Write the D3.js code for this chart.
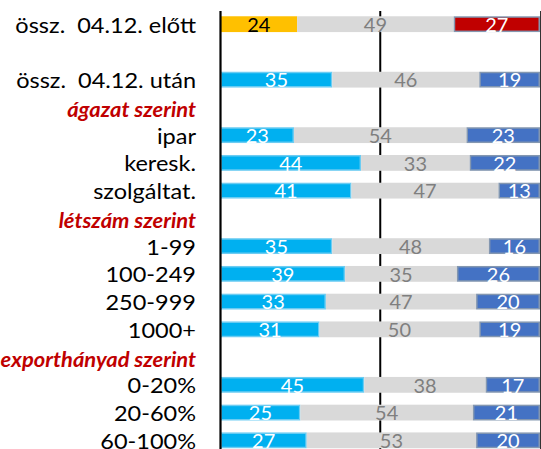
<!DOCTYPE html>
<html>
<head>
<meta charset="utf-8">
<script src="https://cdn.jsdelivr.net/npm/d3@7"></script>
<style>
  html, body { margin: 0; padding: 0; background: #fff; }
  svg { display: block; }
  text { white-space: pre; }
</style>
</head>
<body>
<svg id="chart" width="541" height="449"></svg>
<script>
// ---- data ----
const categories = ["össz.  04.12. előtt", "", "össz.  04.12. után", "ágazat szerint", "ipar", "keresk.", "szolgáltat.",
  "létszám szerint", "1-99", "100-249", "250-999", "1000+", "exporthányad szerint", "0-20%", "20-60%", "60-100%"];
const headerRows = ["ágazat szerint", "létszám szerint", "exporthányad szerint"];
const seriesLow  = [24, null, 35, null, 23, 44, 41, null, 35, 39, 33, 31, null, 45, 25, 27];
const seriesMid  = [49, null, 46, null, 54, 33, 47, null, 48, 35, 47, 50, null, 38, 54, 53];
const seriesHigh = [27, null, 19, null, 23, 22, 13, null, 16, 26, 20, 19, null, 17, 21, 20];
const xTicks = [0, 50, 100];

// ---- layout ----
const svg = d3.select("#chart");
const x = d3.scaleLinear().domain([0, 100]).range([220.5, 540]);
const y = d3.scaleBand().domain(categories.map((c, i) => i)).range([10.3, 454.2])
  .paddingInner(0.43).paddingOuter(0.215);
const FONT = "Lato, 'Open Sans', sans-serif";

const rows = categories.map((c, i) => ({
  i, label: c, header: headerRows.includes(c),
  low: seriesLow[i], mid: seriesMid[i], high: seriesHigh[i]
})).filter(d => d.low != null);

// middle gridline (behind bars)
svg.append("line")
  .attr("x1", x(xTicks[1])).attr("x2", x(xTicks[1]))
  .attr("y1", 11).attr("y2", 449)
  .attr("stroke", "#000").attr("stroke-width", 2);

const g = svg.append("g");
rows.forEach(d => {
  const first = d.i === 0;
  const segs = [
    { x0: 0, x1: d.low, v: d.low, fill: first ? "#FFC000" : "#00B0F0", stroke: first ? "none" : "#6cccf2", text: first ? "#000" : "#fff" },
    { x0: d.low, x1: 100 - d.high, v: d.mid, fill: "#D9D9D9", stroke: "none", text: "#7F7F7F" },
    { x0: 100 - d.high, x1: 100, v: d.high, fill: first ? "#C00000" : "#4472C4", stroke: "#8497B0", text: "#fff" }
  ];
  segs.forEach(s => {
    const hasStroke = s.stroke !== "none";
    g.append("rect")
      .attr("x", x(s.x0) + (hasStroke ? 0.75 : 0))
      .attr("y", y(d.i) + (hasStroke ? 0.75 : 0))
      .attr("width", x(s.x1) - x(s.x0) - (hasStroke ? 1.5 : 0))
      .attr("height", y.bandwidth() - (hasStroke ? 1.5 : 0))
      .attr("fill", s.fill)
      .attr("stroke", s.stroke)
      .attr("stroke-width", hasStroke ? 1.5 : 0);
    const tx = (x(s.x0) + x(s.x1)) / 2;
    const ty = y(d.i) + y.bandwidth() / 2 + 7.8;
    g.append("text")
      .attr("transform", `translate(${tx},${ty}) scale(1.08,1)`)
      .attr("text-anchor", "middle")
      .attr("font-family", FONT)
      .attr("font-size", 18.5)
      .attr("fill", s.text)
      .text(s.v);
  });
});

// axis lines
svg.append("line")
  .attr("x1", x(xTicks[0])).attr("x2", x(xTicks[0]))
  .attr("y1", 11).attr("y2", 449)
  .attr("stroke", "#000").attr("stroke-width", 2.2);
svg.append("line")
  .attr("x1", x(xTicks[2]) + 0.5).attr("x2", x(xTicks[2]) + 0.5)
  .attr("y1", 11).attr("y2", 449)
  .attr("stroke", "#333").attr("stroke-width", 1);

// category labels
categories.forEach((c, i) => {
  if (!c) return;
  const header = headerRows.includes(c);
  const cy = y(i) + y.bandwidth() / 2;
  svg.append("text")
    .attr("transform", `translate(196,${cy + (header ? 9.5 : 8.5)}) scale(${header ? 1.07 : 1.12},1)`)
    .attr("text-anchor", "end")
    .attr("font-family", FONT)
    .attr("font-size", header ? 20.5 : 21)
    .attr("font-weight", header ? "bold" : "normal")
    .attr("font-style", header ? "italic" : "normal")
    .attr("fill", header ? "#C00000" : "#000")
    .text(c);
});
</script>
</body>
</html>
